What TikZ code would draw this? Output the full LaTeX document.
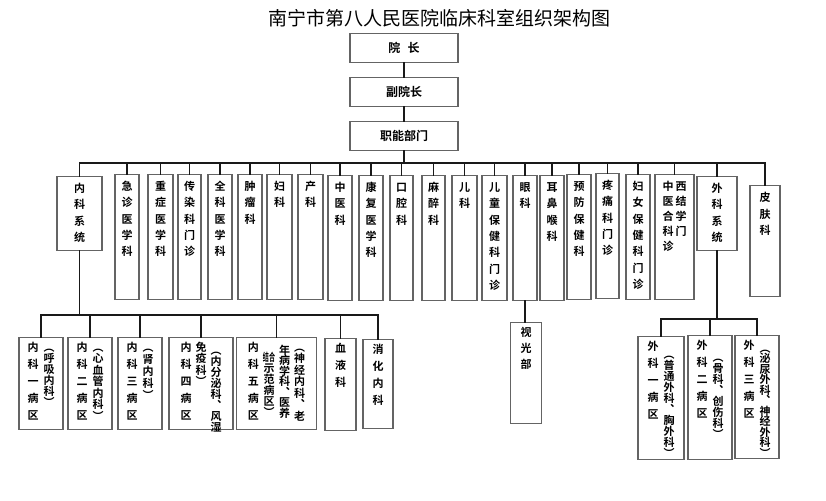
\documentclass[tikz,border=0pt]{standalone}
\usepackage{fontspec}
\setmainfont{Noto Sans CJK SC}[BoldFont={Noto Sans CJK SC Bold}]
\usepackage{graphicx}
\usepackage{tikz}
\usetikzlibrary{positioning}
\definecolor{framegray}{RGB}{100,100,100}
\definecolor{linkblack}{RGB}{25,25,25}
\newcommand{\vcol}[2][16.3pt]{\vtop{\let\\\cr\baselineskip=#1\relax
  \lineskiplimit=-\maxdimen\lineskip=0pt\halign{\hfil##\hfil\cr#2\crcr}}}
\tikzset{
  title-text/.style={font=\fontsize{19}{22}\selectfont},
  lead-box/.style={draw=framegray, line width=1.1pt, minimum width=108pt,
    minimum height=29pt, font=\fontsize{12}{14}\selectfont\bfseries, inner sep=2pt},
  dept-box/.style={draw=framegray, line width=1.1pt, fill=white, anchor=north,
    inner xsep=2pt, inner ysep=4pt, text height=12pt, text depth=#1,
    font=\fontsize{11}{13}\selectfont\bfseries},
  dept-box/.default=105pt,
  ward-box/.style={dept-box=#1, text height=9.5pt},
  link-line/.style={draw=linkblack, line width=1.4pt, line cap=rect}
}

\begin{document}
\begin{tikzpicture}[x=1pt, y=-1pt]
\useasboundingbox (0,0) rectangle (826,500);
\node[title-text] (title) at (439,18) {南宁市第八人民医院临床科室组织架构图};
\node[lead-box] (dean) at (404,48) {院\hspace{0.6em}长};
\node[lead-box] (vicedean) at (404,92) {副院长};
\node[lead-box] (office) at (404,136) {职能部门};
\coordinate (bus) at (0,163);
\coordinate (nkbus) at (0,315);
\coordinate (wkbus) at (0,319);

\node[dept-box=54pt, minimum width=45pt] (neike) at (79.5,176) {\vcol{内\\科\\系\\统}};
\node[dept-box, minimum width=24pt] (jizhen) at (127,174) {\vcol{急\\诊\\医\\学\\科}};
\node[dept-box, minimum width=25pt] (zhongzheng) at (160.5,174) {\vcol{重\\症\\医\\学\\科}};
\node[dept-box, minimum width=23pt] (chuanran) at (189.5,174) {\vcol{传\\染\\科\\门\\诊}};
\node[dept-box, minimum width=24pt] (quanke) at (220,174) {\vcol{全\\科\\医\\学\\科}};
\node[dept-box, minimum width=24pt] (zhongliu) at (250,174) {\vcol{肿\\瘤\\科}};
\node[dept-box, minimum width=25pt] (fuke) at (279.5,174) {\vcol{妇\\科}};
\node[dept-box, minimum width=25pt] (chanke) at (310.5,174) {\vcol{产\\科}};
\node[dept-box, minimum width=24pt] (zhongyi) at (340,175) {\vcol{中\\医\\科}};
\node[dept-box, minimum width=24pt] (kangfu) at (371,175) {\vcol{康\\复\\医\\学\\科}};
\node[dept-box, minimum width=23pt] (kouqiang) at (401.5,175) {\vcol{口\\腔\\科}};
\node[dept-box, minimum width=23pt] (mazui) at (433.5,175) {\vcol{麻\\醉\\科}};
\node[dept-box, minimum width=25pt] (erke) at (464.5,175) {\vcol{儿\\科}};
\node[dept-box, minimum width=25pt] (ertong) at (494.5,175) {\vcol{儿\\童\\保\\健\\科\\门\\诊}};
\node[dept-box, minimum width=24pt] (yanke) at (525,175) {\vcol{眼\\科}};
\node[dept-box, minimum width=24pt] (erbihou) at (552,175) {\vcol{耳\\鼻\\喉\\科}};
\node[dept-box, minimum width=24pt] (yufang) at (579,174) {\vcol{预\\防\\保\\健\\科}};
\node[dept-box, minimum width=23pt] (tengtong) at (607.5,173) {\vcol{疼\\痛\\科\\门\\诊}};
\node[dept-box, minimum width=24pt] (fuyou) at (638,174) {\vcol{妇\\女\\保\\健\\科\\门\\诊}};
\node[dept-box, minimum width=39pt] (zhongxi) at (674.5,174)
  {\vcol[15pt]{中\\医\\合\\科\\诊}\hspace{2pt}\vcol[15pt]{西\\结\\学\\门}};
\node[dept-box=54pt, minimum width=40pt] (waike) at (717,176) {\vcol{外\\科\\系\\统}};
\node[dept-box=91pt, minimum width=30pt] (pifu) at (765,185) {\vcol[16.5pt]{皮\\肤\\科}};

\node[ward-box=74.5pt, minimum width=44pt] (nk1) at (41,337)
  {\vcol[17pt]{内\\科\\一\\病\\区}\hspace{5pt}\vcol[11pt]{︵\\呼\\吸\\内\\科\\︶}};
\node[ward-box=74.5pt, minimum width=44pt] (nk2) at (90,337)
  {\vcol[17pt]{内\\科\\二\\病\\区}\hspace{5pt}\vcol[11.5pt]{︵\\心\\血\\管\\内\\科\\︶}};
\node[ward-box=74.5pt, minimum width=44pt] (nk3) at (140,337)
  {\vcol[17pt]{内\\科\\三\\病\\区}\hspace{5pt}\vcol[12pt]{︵\\肾\\内\\科\\︶}};
\node[ward-box=74.5pt, minimum width=64pt] (nk4) at (201,337)
  {\vcol[17pt]{内\\科\\四\\病\\区}\hspace{4pt}\vcol[11.5pt]{免\\疫\\科\\︶}%
   \hspace{4pt}\raisebox{-3pt}{\vcol[11pt]{︵\\内\\分\\泌\\科\\︑\\风\\湿}}};
\node[ward-box=74.5pt, minimum width=80pt] (nk5) at (276.5,337)
  {\vcol[17pt]{内\\科\\五\\病\\区}\hspace{4pt}%
   \raisebox{-10pt}{\vcol[11pt]{\scalebox{0.55}[1]{结合}\\示\\范\\病\\区\\︶}}\hspace{4pt}%
   \raisebox{-3pt}{\vcol[10.5pt]{年\\病\\学\\科\\︑\\医\\养}}\hspace{4pt}%
   \vcol[11.5pt]{︵\\神\\经\\内\\科\\︑\\老}};
\node[ward-box=74.5pt, minimum width=31pt] (nk6) at (340.5,338) {\vcol[17pt]{血\\液\\科}};
\node[ward-box=71.5pt, minimum width=30pt] (nk7) at (378,339) {\vcol[17pt]{消\\化\\内\\科}};

\node[ward-box=83.5pt, minimum width=31pt] (shiguang) at (526,322) {\vcol[16pt]{视\\光\\部}};

\node[ward-box=105.5pt, minimum width=46pt] (wk1) at (661,336)
  {\vcol[17pt]{外\\科\\一\\病\\区}\hspace{5pt}%
   \raisebox{-8pt}{\vcol[11pt]{︵\\普\\通\\外\\科\\︑\\胸\\外\\科\\︶}}};
\node[ward-box=106.5pt, minimum width=44pt] (wk2) at (710,335)
  {\vcol[17pt]{外\\科\\二\\病\\区}\hspace{5pt}%
   \raisebox{-12pt}{\vcol[11pt]{︵\\骨\\科\\︑\\创\\伤\\科\\︶}}};
\node[ward-box=105.5pt, minimum width=44pt] (wk3) at (757,335)
  {\vcol[17pt]{外\\科\\三\\病\\区}\hspace{5pt}%
   \raisebox{-3pt}{\vcol[10.5pt]{︵\\泌\\尿\\外\\科\\︑\\神\\经\\外\\科\\︶}}};

\draw[link-line] (dean) -- (vicedean);
\draw[link-line] (vicedean) -- (office);
\draw[link-line] (office) -- (office |- bus);
\draw[link-line] (neike.north |- bus) -- (pifu.north |- bus);
\foreach \d in {neike,jizhen,zhongzheng,chuanran,quanke,zhongliu,fuke,chanke,zhongyi,
  kangfu,kouqiang,mazui,erke,ertong,yanke,erbihou,yufang,tengtong,fuyou,zhongxi,waike,pifu}
  \draw[link-line] (\d.north |- bus) -- (\d.north);
\draw[link-line] (neike) -- (neike |- nkbus);
\draw[link-line] (nk1.north |- nkbus) -- (nk7.north |- nkbus);
\foreach \d in {nk1,nk2,nk3,nk4,nk5,nk6,nk7}
  \draw[link-line] (\d.north |- nkbus) -- (\d.north);
\draw[link-line] (yanke) -- (yanke |- shiguang.north);
\draw[link-line] (waike) -- (waike |- wkbus);
\draw[link-line] (wk1.north |- wkbus) -- (wk3.north |- wkbus);
\foreach \d in {wk1,wk2,wk3}
  \draw[link-line] (\d.north |- wkbus) -- (\d.north);
\end{tikzpicture}
\end{document}
